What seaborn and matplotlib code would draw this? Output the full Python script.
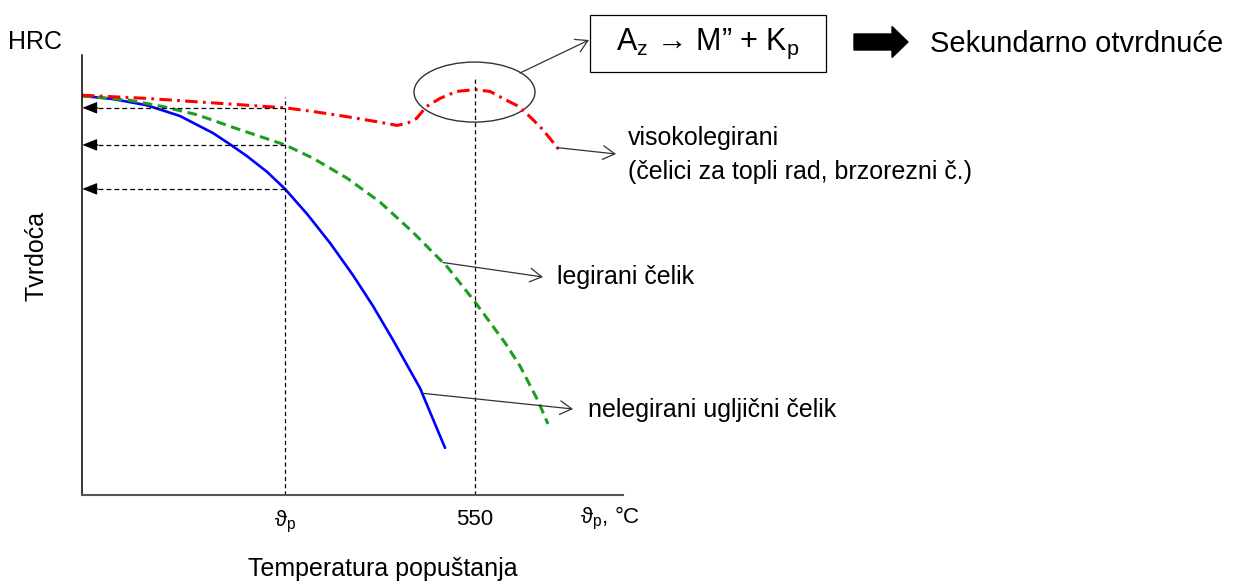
import numpy as np
import matplotlib
matplotlib.use("Agg")
import matplotlib.pyplot as plt
import seaborn as sns
from matplotlib.patches import Ellipse, Rectangle, FancyArrow
from matplotlib.transforms import IdentityTransform

# Tempering temperature (°C) and hardness (HRC) for the three steel groups
T_P = 284  # chosen tempering temperature ϑp

temp_nelegirani = [0, 43, 91, 137, 183, 207, 231, 259, T_P, 315, 347, 379, 407,
                   435, 473, 491, 508]
hrc_nelegirani = [63.5, 63.0, 62.0, 60.3, 57.6, 55.8, 53.9, 51.4, 48.7, 44.7,
                  40.1, 35.0, 30.1, 24.7, 17.0, 12.1, 7.5]

temp_legirani = [0, 67, 113, 161, 211, T_P, 323, 371, 417, 463, 511, 550, 592,
                 613, 638, 652]
hrc_legirani = [63.5, 62.8, 61.8, 60.5, 58.5, 55.7, 53.6, 50.4, 46.6, 41.8,
                36.3, 30.7, 24.2, 20.5, 15.0, 11.3]

temp_visoko = [0, 90, T_P, 324, 370, 412, 441, 456, 468, 482, 501, 524, 550,
               571, 594, 608, 622, 641, 655, 671]
hrc_visoko = [63.6, 63.1, 61.6, 61.0, 60.2, 59.4, 58.8, 59.2, 59.9, 61.8, 63.1,
              64.2, 64.5, 64.2, 62.8, 62.0, 60.7, 58.6, 56.7, 54.4]

x_tick_pos = [T_P, 550]
x_tick_labels = ["ϑ$_\\mathregular{p}$", "550"]

W, H = 1242, 584

sns.set_theme(style="white")
plt.rcParams["font.family"] = ["Liberation Sans", "DejaVu Sans"]
plt.rcParams["mathtext.fontset"] = "custom"
plt.rcParams["mathtext.rm"] = "Liberation Sans"
plt.rcParams["mathtext.it"] = "Liberation Sans:italic"
plt.rcParams["lines.scale_dashes"] = False
plt.rcParams["text.color"] = "black"
plt.rcParams["axes.labelcolor"] = "black"
plt.rcParams["xtick.color"] = "black"
plt.rcParams["xtick.labelcolor"] = "black"

fig = plt.figure(figsize=(W / 100, H / 100), dpi=100)
fig.patch.set_facecolor("white")
ax = fig.add_axes([82 / W, 1 - 495 / H, (623 - 82) / W, (495 - 55) / H])
ax.set_facecolor("white")


def fx(px):
    return px / W


def fy(py):
    return 1 - py / H


# curves
sns.lineplot(x=temp_nelegirani, y=hrc_nelegirani, ax=ax, color="#0000FF",
             linewidth=1.9, sort=True)
sns.lineplot(x=temp_legirani, y=hrc_legirani, ax=ax, color="#1E9E1E",
             linewidth=2.2, sort=True)
ax.lines[-1].set_dashes((7.0, 4.0))
sns.lineplot(x=temp_visoko, y=hrc_visoko, ax=ax, color="#FF0000",
             linewidth=2.2, sort=True)
ax.lines[-1].set_dashes((9.0, 3.8, 2.0, 3.8))

ax.set_xlim(0, 757)
ax.set_ylim(0, 70)

# guide lines at ϑp and 550 °C
ax.plot([T_P, T_P], [0, 63.3], color="black", lw=0.9, dashes=(3.0, 2.2))
ax.plot([550, 550], [0, 66.7], color="black", lw=0.9, dashes=(3.0, 2.2))

# hardness readings at ϑp, projected to the hardness axis
for temps, vals in [(temp_visoko, hrc_visoko), (temp_legirani, hrc_legirani),
                    (temp_nelegirani, hrc_nelegirani)]:
    h = float(np.interp(T_P, temps, vals))
    ax.plot([T_P, 22], [h, h], color="black", lw=0.9, dashes=(3.5, 2.2))
    ax.annotate("", xy=(0.5, h), xytext=(22, h),
                arrowprops=dict(arrowstyle="-|>,head_length=0.45,head_width=0.18",
                                color="black", lw=0.9, shrinkA=0, shrinkB=0,
                                mutation_scale=20))

# secondary hardening region
ax.add_patch(Ellipse((549.2, 64.1), 169.3, 9.55, fill=False, ec="#333333",
                     lw=1.0, clip_on=False))

ax.spines[["top", "right"]].set_visible(False)
ax.spines["left"].set_color("black")
ax.spines["left"].set_linewidth(1.1)
ax.spines["bottom"].set_color("#555555")
ax.spines["bottom"].set_linewidth(1.5)
ax.set_yticks([])
ax.set_xticks(x_tick_pos, x_tick_labels)
ax.tick_params(axis="x", length=0, pad=10, labelsize=16, colors="black")

ax.set_xlabel("Temperatura popuštanja", fontsize=18, color="black", va="center")
ax.xaxis.set_label_coords((383 - 82) / 541, (495 - 569) / 440)
ax.set_ylabel("Tvrdoća", fontsize=18, color="black", va="center")
ax.yaxis.set_label_coords((37 - 82) / 541, (495 - 256) / 440)

fig.text(fx(8), fy(42), "HRC", fontsize=18, ha="left", va="center")
fig.text(fx(580), fy(518), "ϑ$_\\mathregular{p}$, °C", fontsize=16, ha="left", va="center")

# curve labels with pointer arrows
arrow_kw = dict(arrowstyle="->,head_length=0.6,head_width=0.35", color="#333333",
                lw=0.9, shrinkA=0, shrinkB=0, mutation_scale=14)


def pointer(temps, vals, t, tip_px):
    h = float(np.interp(t, temps, vals))
    ax.annotate("", xy=(tip_px[0], H - tip_px[1]), xycoords="figure pixels",
                xytext=(t, h), textcoords="data", arrowprops=arrow_kw,
                annotation_clip=False)


pointer(temp_visoko, hrc_visoko, 665, (616, 154))
pointer(temp_legirani, hrc_legirani, 505, (543, 277))
pointer(temp_nelegirani, hrc_nelegirani, 476, (573, 409))

fig.text(fx(628), fy(138), "visokolegirani", fontsize=18, ha="left", va="center")
fig.text(fx(628), fy(172), "(čelici za topli rad, brzorezni č.)", fontsize=18,
         ha="left", va="center")
fig.text(fx(557), fy(277), "legirani čelik", fontsize=18, ha="left", va="center")
fig.text(fx(588), fy(410), "nelegirani ugljični čelik", fontsize=18, ha="left",
         va="center")

# transformation box and its pointer from the ellipse
ax.annotate("", xy=(589, H - 40), xycoords="figure pixels",
            xytext=(520, H - 73), textcoords="figure pixels",
            arrowprops=arrow_kw, annotation_clip=False)
fig.add_artist(Rectangle((590, H - 72), 236, 57, fill=False, ec="black", lw=0.9,
                         transform=IdentityTransform()))
fig.text(fx(708), fy(44), "A$_\\mathregular{z}$ → M” + K$_\\mathregular{p}$",
         fontsize=22, ha="center", va="center")

fig.add_artist(FancyArrow(854, H - 42, 54, 0, width=16, head_width=31,
                          head_length=16, length_includes_head=True,
                          color="black", transform=IdentityTransform()))
fig.text(fx(930), fy(44), "Sekundarno otvrdnuće", fontsize=21, ha="left",
         va="center")

fig.savefig("out.png", dpi=100, facecolor="white")
